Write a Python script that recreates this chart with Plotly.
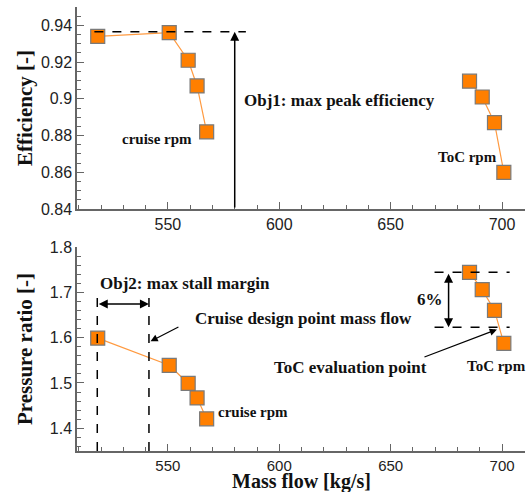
import plotly.graph_objects as go
from plotly.subplots import make_subplots

# Data
cruise_flow = [518.5, 550.6, 559.1, 563.1, 567.4]
cruise_eff = [0.934, 0.936, 0.921, 0.907, 0.882]
cruise_pr = [1.599, 1.539, 1.499, 1.467, 1.421]
toc_flow = [685.4, 691.1, 696.6, 700.8]
toc_eff = [0.9096, 0.901, 0.887, 0.860]
toc_pr = [1.744, 1.706, 1.660, 1.5875]

x_ticks = [550, 600, 650, 700]
eff_ticks = [0.84, 0.86, 0.88, 0.9, 0.92, 0.94]
eff_labels = ["0.84", "0.86", "0.88", "0.9", "0.92", "0.94"]
pr_ticks = [1.4, 1.5, 1.6, 1.7, 1.8]

ORANGE = "#FF7F00"
LINE_OR = "#FF9A40"
SERIF = "Liberation Serif, Times New Roman, serif"
SANS = "Liberation Sans, Arial, sans-serif"

fig = make_subplots(rows=2, cols=1, vertical_spacing=0.0)

marker = dict(symbol="square", size=14, color=ORANGE, line=dict(color="#7a7a7a", width=1.2))
line = dict(color=LINE_OR, width=1.2)

fig.add_trace(go.Scatter(x=cruise_flow, y=cruise_eff, mode="lines+markers", marker=marker, line=line), row=1, col=1)
fig.add_trace(go.Scatter(x=toc_flow, y=toc_eff, mode="lines+markers", marker=marker, line=line), row=1, col=1)
fig.add_trace(go.Scatter(x=cruise_flow, y=cruise_pr, mode="lines+markers", marker=marker, line=line), row=2, col=1)
fig.add_trace(go.Scatter(x=toc_flow, y=toc_pr, mode="lines+markers", marker=marker, line=line), row=2, col=1)

axis_common = dict(showline=True, linecolor="#666666", linewidth=1.5, ticks="inside", ticklen=7,
                   tickcolor="#666666", tickwidth=1.2, showgrid=False, zeroline=False, mirror=False,
                   automargin=False, tickfont=dict(family=SANS, size=16, color="#222222"))

fig.update_xaxes(range=[509.2, 710.3], tickvals=x_ticks,
                 minor=dict(dtick=10, tick0=500, ticks="inside", ticklen=4, tickcolor="#666666"),
                 **axis_common)
fig.update_xaxes(tickfont=dict(family=SANS, size=15, color="#222222"), row=2, col=1)
fig.update_yaxes(range=[0.84, 0.95], tickvals=eff_ticks, ticktext=eff_labels,
                 minor=dict(dtick=0.005, tick0=0.84, ticks="inside", ticklen=4, tickcolor="#666666"),
                 row=1, col=1, **axis_common)
fig.update_yaxes(range=[1.35, 1.8], tickvals=pr_ticks,
                 minor=dict(dtick=0.02, tick0=1.34, ticks="inside", ticklen=4, tickcolor="#666666"),
                 row=2, col=1, **axis_common)

fig.update_layout(
    width=527, height=492, showlegend=False,
    plot_bgcolor="white", paper_bgcolor="white",
    margin=dict(l=77, r=2, t=7, b=41, autoexpand=False),
)
fig.layout.yaxis.domain = [0.545, 1.0]
fig.layout.yaxis2.domain = [0.0, 0.4595]

dash = dict(color="black", width=1.5, dash="dash")
shapes = [
    dict(type="line", xref="x", yref="y", x0=517, x1=585, y0=0.9365, y1=0.9365, line=dash),
    dict(type="line", xref="x2", yref="y2", x0=518.3, x1=518.3, y0=1.35, y1=1.698, line=dash),
    dict(type="line", xref="x2", yref="y2", x0=541.5, x1=541.5, y0=1.35, y1=1.698, line=dash),
    dict(type="line", xref="x2", yref="y2", x0=669.7, x1=703.4, y0=1.744, y1=1.744, line=dash),
    dict(type="line", xref="x2", yref="y2", x0=669.7, x1=703.4, y0=1.623, y1=1.623, line=dash),
]
fig.update_layout(shapes=shapes)

titlefont = dict(family=SERIF, size=21, color="#111111")
tfont = dict(family=SERIF, size=17, color="#111111")
sfont = dict(family=SERIF, size=15, color="#111111")
ann = [
    # axis titles
    dict(xref="paper", yref="paper", x=-0.116, y=0.7725, textangle=-90, showarrow=False,
         text="<b>Efficiency [-]</b>", font=titlefont, xanchor="center", yanchor="middle"),
    dict(xref="paper", yref="paper", x=-0.116, y=0.2297, textangle=-90, showarrow=False,
         text="<b>Pressure ratio [-]</b>", font=titlefont, xanchor="center", yanchor="middle"),
    dict(xref="paper", yref="paper", x=0.5, y=-0.068, showarrow=False,
         text="<b>Mass flow [kg/s]</b>", font=dict(family=SERIF, size=20, color="#111111"),
         xanchor="center", yanchor="middle"),
    # Obj1 arrow
    dict(xref="x", yref="y", axref="x", ayref="y", x=580, y=0.9365, ax=580, ay=0.84,
         showarrow=True, arrowhead=2, arrowsize=1.2, arrowwidth=1.5, arrowcolor="black", text=""),
    dict(xref="x", yref="y", x=583.2, y=0.8992, xanchor="left", yanchor="middle", showarrow=False,
         text="<b>Obj1: max peak efficiency</b>", font=tfont),
    dict(xref="x", yref="y", x=545.1, y=0.878, showarrow=False, text="<b>cruise rpm</b>", font=sfont),
    dict(xref="x", yref="y", x=684.5, y=0.8683, showarrow=False, text="<b>ToC rpm</b>", font=sfont),
    # Obj2
    dict(xref="x2", yref="y2", x=557.6, y=1.72, showarrow=False, text="<b>Obj2: max stall margin</b>", font=tfont),
    dict(xref="x2", yref="y2", axref="x2", ayref="y2", x=541.5, y=1.674, ax=518.3, ay=1.674,
         showarrow=True, arrowhead=2, arrowside="end+start", arrowsize=1.2, arrowwidth=1.5, arrowcolor="black", text=""),
    dict(xref="x2", yref="y2", x=610.8, y=1.642, showarrow=False, text="<b>Cruise design point mass flow</b>", font=tfont),
    dict(xref="x2", yref="y2", axref="x2", ayref="y2", x=542.2, y=1.592, ax=555.4, ay=1.625,
         showarrow=True, arrowhead=2, arrowsize=1.2, arrowwidth=1.2, arrowcolor="black", text=""),
    dict(xref="x2", yref="y2", axref="x2", ayref="y2", x=676, y=1.623, ax=676, ay=1.744,
         showarrow=True, arrowhead=2, arrowside="end+start", arrowsize=1.2, arrowwidth=1.5, arrowcolor="black", text=""),
    dict(xref="x2", yref="y2", x=667.8, y=1.684, showarrow=False, text="<b>6%</b>", font=tfont),
    dict(xref="x2", yref="y2", x=632.1, y=1.535, showarrow=False, text="<b>ToC evaluation point</b>", font=tfont),
    dict(xref="x2", yref="y2", axref="x2", ayref="y2", x=697.7, y=1.618, ax=664.5, ay=1.556,
         showarrow=True, arrowhead=2, arrowsize=1.2, arrowwidth=1.2, arrowcolor="black", text=""),
    dict(xref="x2", yref="y2", x=697.3, y=1.537, showarrow=False, text="<b>ToC rpm</b>", font=sfont),
    dict(xref="x2", yref="y2", x=588.1, y=1.436, showarrow=False, text="<b>cruise rpm</b>", font=sfont),
]
fig.update_layout(annotations=ann)

fig.write_html("out.html", config={"displayModeBar": False},
               post_script="document.body.style.margin='0px';")
